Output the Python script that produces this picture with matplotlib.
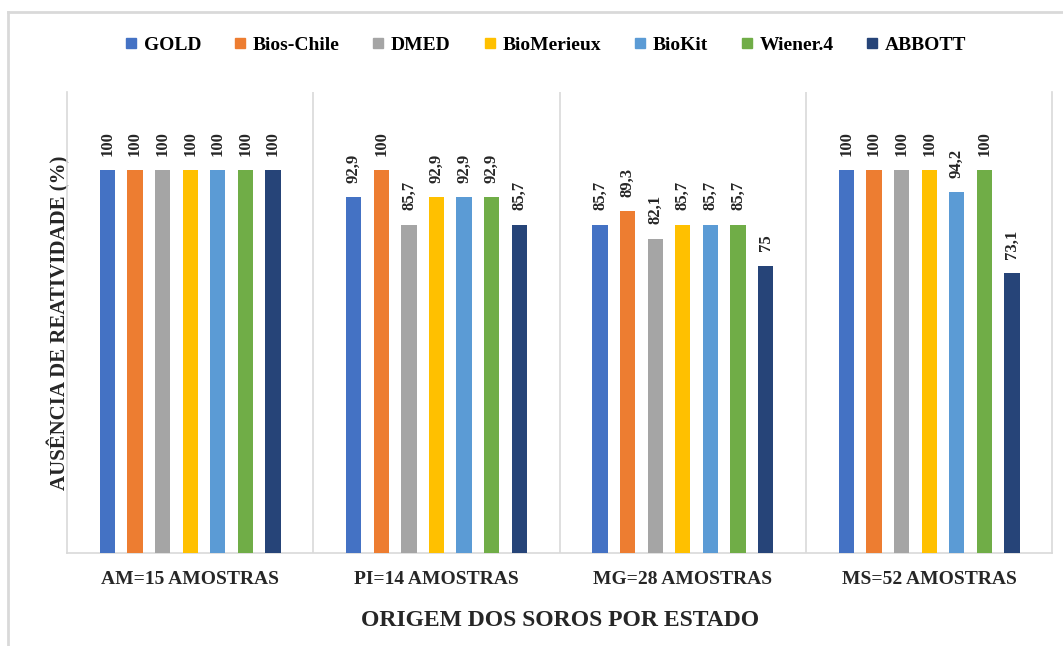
import numpy as np
import matplotlib.pyplot as plt
from matplotlib.lines import Line2D

plt.rcParams['font.family'] = ['Liberation Serif', 'DejaVu Serif']

states = ["AM=15 AMOSTRAS", "PI=14 AMOSTRAS", "MG=28 AMOSTRAS", "MS=52 AMOSTRAS"]
kits = ["GOLD", "Bios-Chile", "DMED", "BioMerieux", "BioKit", "Wiener.4", "ABBOTT"]
colors = ["#4472C4", "#ED7D31", "#A5A5A5", "#FFC000", "#5B9BD5", "#70AD47", "#264478"]

gold = [100, 92.9, 85.7, 100]
bios_chile = [100, 100, 89.3, 100]
dmed = [100, 85.7, 82.1, 100]
biomerieux = [100, 92.9, 85.7, 100]
biokit = [100, 92.9, 85.7, 94.2]
wiener4 = [100, 92.9, 85.7, 100]
abbott = [100, 85.7, 75, 73.1]
series = [gold, bios_chile, dmed, biomerieux, biokit, wiener4, abbott]

fig = plt.figure(figsize=(10.63, 6.46), dpi=100)
ax = fig.add_axes([0.063, 0.144, 0.927, 0.714])

x = np.arange(len(states))
step = 0.112
width = 0.062
for i, (vals, color) in enumerate(zip(series, colors)):
    pos = x + (i - 3) * step
    ax.bar(pos, vals, width=width, color=color, zorder=3)
    for p, v in zip(pos, vals):
        lbl = f"{v:g}".replace(".", ",")
        ax.annotate(lbl, (p, v), xytext=(0, 10.5), textcoords="offset points",
                    rotation=90, ha="center", va="bottom", fontsize=12,
                    fontweight="bold", color="#262626")

ax.set_xlim(-0.5, len(states) - 0.5)
ax.set_ylim(0, 120.5)
ax.set_yticks([])
ax.set_xticks(x)
ax.set_xticklabels(states, fontsize=14, fontweight="bold", color="#262626")
ax.tick_params(axis="x", length=0, pad=13)

# category separators
for b in x[:-1] + 0.5:
    ax.axvline(b, color="#D9D9D9", lw=1.2, zorder=1)
ax.spines["top"].set_visible(False)
for s in ["left", "right", "bottom"]:
    ax.spines[s].set_color("#D9D9D9")
    ax.spines[s].set_linewidth(1.2)

ax.set_xlabel("ORIGEM DOS SOROS POR ESTADO", fontsize=17, fontweight="bold",
              color="#262626", labelpad=16)
ax.set_ylabel("AUSÊNCIA DE REATIVIDADE (%)", fontsize=15, fontweight="bold",
              color="#262626", labelpad=-2.5)

handles = [Line2D([], [], marker="s", linestyle="", markersize=7,
                  markerfacecolor=c, markeredgecolor=c) for c in colors]
fig.legend(handles, kits, loc="center", bbox_to_anchor=(0.513, 0.93), ncol=7,
           frameon=False, prop={"weight": "bold", "size": 14},
           handlelength=0.7, handletextpad=0.3, columnspacing=1.65)

# outer frame
fig.add_artist(Line2D([8 / 1063, 1.0], [1 - 12 / 646, 1 - 12 / 646],
                      transform=fig.transFigure, color="#D9D9D9", lw=2))
fig.add_artist(Line2D([8 / 1063, 8 / 1063], [0, 1 - 12 / 646],
                      transform=fig.transFigure, color="#D9D9D9", lw=2))

fig.savefig("out.png", dpi=100)
